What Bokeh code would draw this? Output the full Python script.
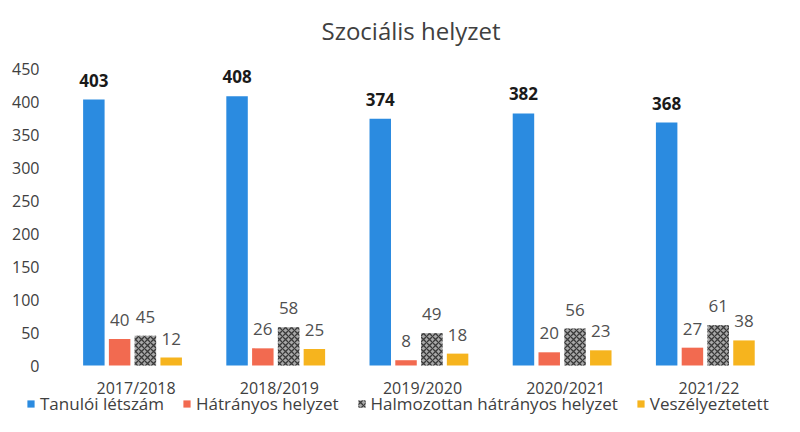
from bokeh.plotting import figure
from bokeh.models import (ColumnDataSource, Range1d, Legend, LegendItem, LabelSet,
                          FixedTicker)
from bokeh.core.properties import value
from bokeh.transform import dodge
from bokeh.embed import file_html
from bokeh.resources import INLINE

years = ["2017/2018", "2018/2019", "2019/2020", "2020/2021", "2021/22"]
tanuloi = [403, 408, 374, 382, 368]
hatranyos = [40, 26, 8, 20, 27]
halmozottan = [45, 58, 49, 56, 61]
veszelyeztetett = [12, 25, 18, 23, 38]
series_names = ["Tanulói létszám", "Hátrányos helyzet",
                "Halmozottan hátrányos helyzet", "Veszélyeztetett"]
y_ticks = [0, 50, 100, 150, 200, 250, 300, 350, 400, 450]

FONT = "Open Sans"
W, H = 784, 416
FRAME_L, FRAME_R, TOP450, ZERO_Y = 64, 780, 68, 365   # screen layout of plotting area
FRAME_TOP = 50
cat_w = (FRAME_R - FRAME_L) / len(years)
y_max = 450
px_per_unit = (ZERO_Y - TOP450) / y_max

xpos = [i + 0.5 for i in range(len(years))]
src = ColumnDataSource(dict(x=xpos, t=tanuloi, h=hatranyos, hh=halmozottan, v=veszelyeztetett))

x_range = Range1d(-FRAME_L / cat_w, (W - FRAME_L) / cat_w)
y_range = Range1d(-(H - ZERO_Y) / px_per_unit, y_max + (TOP450 - FRAME_TOP) / px_per_unit)

styles = [
    dict(fill_color="#2b8be0", line_color=None),
    dict(fill_color="#f26a50", line_color=None),
    dict(fill_color="#a8a8a8", line_color=None, hatch_pattern="diagonal_cross",
         hatch_color="#3a3a3a", hatch_scale=6, hatch_weight=1.3),
    dict(fill_color="#f6b41e", line_color=None),
]

p = figure(x_range=x_range, y_range=y_range, width=W, height=H,
           output_backend="svg", toolbar_location=None,
           min_border_left=0, min_border_right=0, min_border_top=FRAME_TOP, min_border_bottom=0)
p.title.text = "Szociális helyzet"
p.title.align = "left"
p.title.offset = 321
p.title.text_font = FONT
p.title.text_font_size = "24px"
p.title.text_font_style = "normal"
p.title.text_color = "#404040"
p.title.standoff = 8

offs = [-0.295, -0.115, 0.065, 0.245]
w = 0.15
cols = ["t", "h", "hh", "v"]
rends = []
for i, c in enumerate(cols):
    rends.append(p.vbar(x=dodge("x", offs[i]), top=c, width=w, source=src, **styles[i]))
    lbl = LabelSet(x=dodge("x", offs[i]), y=c, text=c, source=src,
                   y_offset=13, text_align="center", text_baseline="bottom",
                   text_font=value(FONT), text_font_size="17px",
                   text_font_style="bold" if i == 0 else "normal",
                   text_color="#1a1a1a" if i == 0 else "#505050")
    p.add_layout(lbl)

p.xgrid.grid_line_color = None
p.ygrid.grid_line_color = None
p.outline_line_color = None

p.xaxis.fixed_location = 0
p.xaxis.ticker = FixedTicker(ticks=xpos)
p.xaxis.major_label_overrides = {x: y for x, y in zip(xpos, years)}
p.yaxis.fixed_location = 0
p.yaxis.ticker = FixedTicker(ticks=y_ticks)
for ax in (p.xaxis, p.yaxis):
    ax.axis_line_color = None
    ax.major_tick_line_color = None
    ax.minor_tick_line_color = None
    ax.major_label_text_font = FONT
    ax.major_label_text_font_size = "16px"
    ax.major_label_text_color = "#404040"
p.yaxis.major_label_standoff = 19
p.xaxis.major_label_standoff = 5

legend = Legend(items=[LegendItem(label=n, renderers=[r]) for n, r in zip(series_names, rends)],
                orientation="horizontal", location=(26, 1),
                label_text_font=FONT, label_text_font_size="17px",
                label_text_color="#404040", glyph_width=9, glyph_height=9,
                label_standoff=5, spacing=18, border_line_color=None,
                background_fill_alpha=0, padding=0, margin=0)
p.add_layout(legend, "center")

open("out.html", "w").write(file_html(p, INLINE))
